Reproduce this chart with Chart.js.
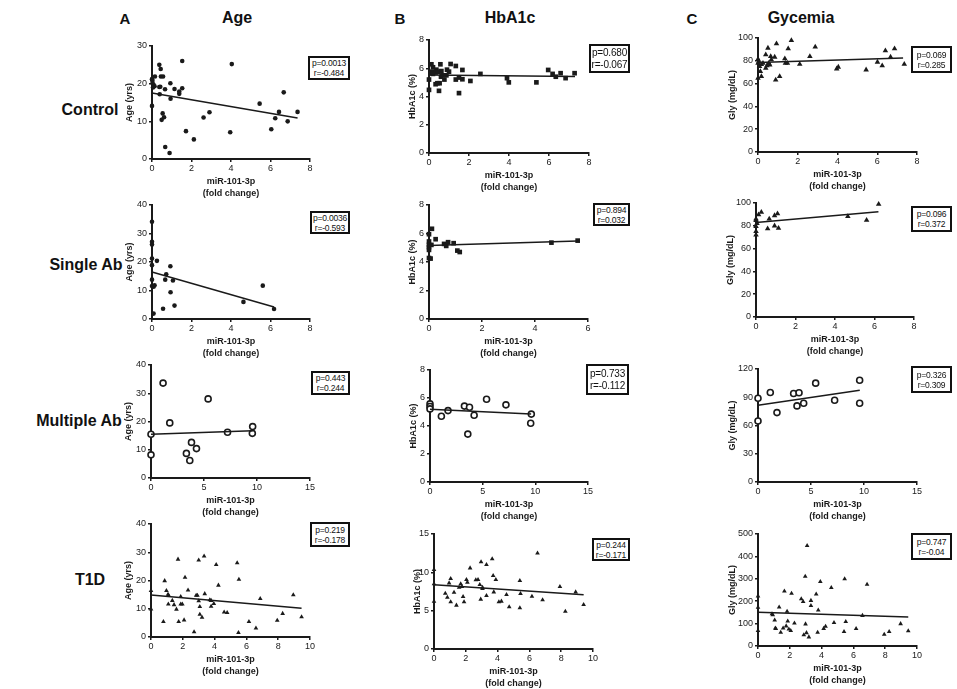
<!DOCTYPE html>
<html>
<head>
<meta charset="utf-8">
<script src="https://cdn.jsdelivr.net/npm/chart.js@4.4.1/dist/chart.umd.min.js"></script>
<style>
  body { margin: 0; background: #fff; font-family: "Liberation Sans", Arial, sans-serif; }
  #fig { position: relative; width: 957px; height: 689px; overflow: hidden; }
  #fig canvas { position: absolute; }
  .lbl { position: absolute; font-weight: bold; color: #111; white-space: nowrap; transform: translate(-50%, -50%); }
  .stat { position: absolute; border: 2px solid #111; box-sizing: border-box; background: #fff;
          font-size: 8.5px; line-height: 10px; color: #111; text-align: center; white-space: nowrap;
          letter-spacing: -0.2px; display: flex; flex-direction: column; justify-content: center;
          align-items: center; z-index: 2; }
</style>
</head>
<body>
<div id="fig"></div>
<script>
// columns and rows of the figure
const columnLetters = ['A', 'B', 'C'];
const columnTitles = ['Age', 'HbA1c', 'Gycemia'];
const rowTitles = ['Control', 'Single Ab', 'Multiple Ab', 'T1D'];
const yTitles = ['Age (yrs)', 'HbA1c (%)', 'Gly (mg/dL)'];
const xTitle = ['miR-101-3p', '(fold change)'];

// [miR-101-3p fold change, value]
const controlAge = [[0,21.2],[0.02,20.8],[0.03,20.1],[0.08,19.7],[0.13,19.3],[0.05,19],[0,14.1],[0.15,21.9],[0.37,25],[0.44,23.9],[0.45,21.9],[0.56,21.9],[0.37,19.1],[0.39,17.2],[0.42,19.2],[0.66,18.5],[0.93,20.1],[0.94,16],[0.54,12.1],[0.49,10.4],[0.61,11.1],[0.67,3.2],[0.89,1.6],[1.14,18.6],[1.38,17.9],[1.38,17.3],[1.53,18.8],[1.53,26],[1.72,7.4],[2.12,5.2],[2.61,11],[2.91,12.4],[3.96,7.1],[4.04,25.2],[5.45,14.7],[6.04,7.9],[6.24,10.8],[6.43,12.5],[6.67,17.7],[6.87,10],[7.37,12.5]];
const controlHba1c = [[0,4.47],[0,5.2],[0.07,5.65],[0.12,6.28],[0.15,5.76],[0.2,5.6],[0.2,6.07],[0.33,5.7],[0.37,5.9],[0.33,4.87],[0.42,4.94],[0.45,5.76],[0.5,4.4],[0.53,4.94],[0.57,6.28],[0.6,5.4],[0.62,5.8],[0.67,5.5],[0.77,5.2],[0.87,5.5],[0.9,5.9],[1.0,5.76],[1.08,6.3],[1.34,6.16],[1.34,5.2],[1.5,5.34],[1.5,4.24],[1.67,5.22],[1.67,5.88],[2.07,5.1],[2.57,5.6],[3.9,5.3],[3.99,5],[5.37,5],[5.96,5.88],[6.18,5.6],[6.34,5.4],[6.58,5.65],[6.83,5.3],[7.28,5.65]];
const controlGly = [[0,81.5],[0,78],[0,64.8],[0.05,79.5],[0.08,75],[0.12,70.7],[0.17,76.8],[0.17,66.3],[0.25,78],[0.39,85.3],[0.39,73.6],[0.45,75.7],[0.5,91.2],[0.54,78],[0.59,76.5],[0.64,83.9],[0.67,81],[0.84,83.3],[0.89,63.3],[0.93,95],[1.09,66.3],[1.35,81.8],[1.38,78],[1.48,78],[1.52,90.6],[1.68,97.9],[2.1,77.1],[2.61,83.9],[2.88,92.1],[3.96,73],[4.04,74.5],[5.44,72.1],[6.01,78.9],[6.25,75.7],[6.41,88.9],[6.67,83.3],[6.87,90.6],[7.36,77.1]];

const singleAge = [[0,34.1],[0,27.1],[0,26.1],[0,21.2],[0,18.9],[0,13.8],[0,11.6],[0.08,11.3],[0.13,11.8],[0.08,1.9],[0.25,20.4],[0.93,18.5],[0.72,15.7],[0.67,13.8],[1.06,13.5],[0.94,9.4],[0.56,3.6],[1.14,4.7],[4.63,6],[5.61,11.7],[6.18,3.5]];
const singleHba1c = [[0,5.95],[0,5.44],[0,5.2],[0,5.04],[0,4.85],[0,4.28],[0.06,4.24],[0.09,5.2],[0.11,6.33],[0.25,5.6],[0.57,5.27],[0.65,5.13],[0.72,5.39],[0.93,5.32],[1.07,4.8],[1.16,4.7],[4.62,5.36],[5.61,5.5]];
const singleGly = [[0,86],[0,84.8],[0,79.5],[0,75],[0,72],[0.05,82],[0.13,89.7],[0.27,92],[0.59,77.4],[0.67,86],[0.94,80],[0.94,89],[1.09,90.6],[1.14,78],[4.65,88.3],[5.6,85],[6.21,99]];

const multipleAge = [[0,15.5],[0,8.2],[1.14,33.6],[1.77,19.5],[3.34,8.7],[3.66,6.2],[3.82,12.6],[4.29,10.4],[5.39,28],[7.22,16.2],[9.59,18.2],[9.56,15.8]];
const multipleHba1c = [[0,5.58],[0,5.39],[0,5.22],[1.08,4.7],[1.71,5.1],[3.27,5.42],[3.75,5.34],[3.59,3.42],[4.19,4.77],[5.37,5.91],[7.21,5.51],[9.62,4.85],[9.56,4.2]];
const multipleGly = [[0,89],[0,64.8],[1.16,95],[1.79,73.7],[3.36,94],[3.87,94.7],[3.68,80.8],[4.31,83.6],[5.44,105],[7.23,86.8],[9.59,108],[9.59,83.6]];

const t1dAge = [[0,16.4],[0,9.9],[0.78,5.4],[0.86,19.9],[0.97,16.4],[1.07,15.1],[1.11,14.7],[1.09,11.6],[1.34,12.9],[1.45,11.4],[1.6,9.8],[1.7,27.5],[1.74,5.4],[1.87,14.3],[1.87,11.6],[1.97,11.6],[2.08,6],[2.14,21.1],[2.33,16.6],[2.71,1.8],[2.84,14.7],[2.92,14.7],[3.0,27.2],[3.0,12.8],[3.07,10.7],[3.07,8],[3.21,6.9],[3.34,28.6],[3.38,15.3],[3.7,13.1],[3.78,12.9],[3.78,10.8],[3.95,11.8],[4.1,25.6],[4.24,18.3],[4.6,8.8],[4.79,8.6],[5.42,26.2],[5.53,20.4],[5.5,1.5],[6.16,5.4],[6.6,3.1],[6.87,13.6],[7.94,5.9],[8.28,8.3],[8.95,14.9],[9.47,7.1]];
const t1dHba1c = [[0,10.35],[0,8.48],[0,6.2],[0.71,7.26],[0.84,6.74],[0.95,8.6],[1.05,9.17],[1.05,6.13],[1.26,7.39],[1.41,5.7],[1.58,8.04],[1.68,8.48],[1.76,8.13],[1.83,6.83],[1.89,6.13],[2.04,9.04],[2.1,8.7],[2.27,10.56],[2.63,9.0],[2.77,9.04],[2.88,8.39],[2.96,11.35],[2.94,6.48],[3.05,8.04],[3.05,7.87],[3.3,11.0],[3.3,6.96],[3.66,11.74],[3.72,9.57],[3.76,7.43],[3.89,9.04],[4.08,6.13],[4.24,6.22],[4.56,7.09],[4.73,5.48],[5.4,8.91],[5.44,7.22],[5.4,5.35],[6.16,6.87],[6.51,12.5],[6.83,6.39],[7.92,8.13],[8.26,4.91],[8.91,7.43],[9.41,5.78]];
const t1dGly = [[0,223],[0,172],[0,68],[0.88,143],[0.93,139],[1.05,115],[1.09,80],[1.12,77],[1.33,173],[1.43,61],[1.58,80],[1.66,245],[1.77,89],[1.83,154],[1.87,111],[1.94,75],[2.06,68],[2.11,235],[2.29,102],[2.72,210],[2.84,198],[2.88,49],[2.97,311],[2.99,98],[3.05,59],[3.09,448],[3.2,40],[3.33,203],[3.33,180],[3.66,231],[3.75,61],[3.79,160],[3.92,287],[4.13,78],[4.25,87],[4.61,260],[4.78,104],[5.41,64],[5.45,299],[5.52,109],[6.17,77],[6.57,136],[6.86,275],[7.94,52],[8.25,64],[8.97,99],[9.45,67]];

// regression lines, start and end as drawn
const controlFits = [[[0,17.5],[7.37,10.9]], [[0,5.53],[7.3,5.41]], [[0,78.6],[7.3,82.4]]];
const singleFits = [[[0,16.5],[6.18,4.2]], [[0,5.15],[5.61,5.48]], [[0,83],[6.2,92.4]]];
const multipleFits = [[[0,15.5],[9.6,16.7]], [[0,5.2],[9.6,4.85]], [[0,81.5],[9.6,97.5]]];
const t1dFits = [[[0,14.9],[9.47,10.2]], [[0,8.39],[9.41,7.09]], [[0,151],[9.45,130]]];

// p / r values in the boxes
const controlStats = [['p=0.0013','r=-0.484'], ['p=0.680','r=-0.067'], ['p=0.069','r=0.285']];
const singleStats = [['p=0.0036','r=-0.593'], ['p=0.894','r=0.032'], ['p=0.096','r=0.372']];
const multipleStats = [['p=0.443','r=0.244'], ['p=0.733','r=-0.112'], ['p=0.326','r=0.309']];
const t1dStats = [['p=0.219','r=-0.178'], ['p=0.244','r=-0.171'], ['p=0.747','r=-0.04']];

// axis ranges [max, step]
const xRanges = [[8,2], [8,2], [15,5], [10,2]];
const singleHbX = [6,2];
const yRanges = [
  [[30,10],[8,2],[100,20]],
  [[40,10],[8,2],[100,20]],
  [[40,10],[8,2],[120,30]],
  [[40,10],[15,5],[500,100]]
];

const rowData = [
  [controlAge, controlHba1c, controlGly],
  [singleAge, singleHba1c, singleGly],
  [multipleAge, multipleHba1c, multipleGly],
  [t1dAge, t1dHba1c, t1dGly]
];
const rowFits = [controlFits, singleFits, multipleFits, t1dFits];
const rowStats = [controlStats, singleStats, multipleStats, t1dStats];

// layout: plot area [left, top, right, bottom], stat box [left, top, w, h]
const plotRects = [
  [[152,46,310,159], [429,40,589,153], [758,38,917,152]],
  [[152,205,310,319], [429,205,588,319], [756,203,914,317]],
  [[151,365,310,478], [430,370,588,482], [758,369,917,482]],
  [[151,524,310,637], [434,534,593,649], [758,534,917,646]]
];
const statBoxes = [
  [[308,56,42,24], [589,44,41,29], [911,46,41,27]],
  [[310,211,40,23], [593,203,37,23], [911,206,41,26]],
  [[311,371,39,24], [586,364,43,31], [911,366,41,27]],
  [[310,522,40,25], [592,538,38,23], [911,533,41,27]]
];
const yTitleOffsets = [22, 16, 25];
const rowLabelX = [90, 86, 79, 90];
const rowLabelY = [110, 265, 421, 580];

const fig = document.getElementById('fig');
const ink = '#1a1a1a';

function addLabel(text, x, y, size) {
  const d = document.createElement('div');
  d.className = 'lbl';
  d.textContent = text;
  d.style.left = x + 'px';
  d.style.top = y + 'px';
  d.style.fontSize = size + 'px';
  fig.appendChild(d);
}

addLabel(columnLetters[0], 125, 18, 15);
addLabel(columnTitles[0], 237, 18, 16);
addLabel(columnLetters[1], 400, 18, 15);
addLabel(columnTitles[1], 510, 18, 16);
addLabel(columnLetters[2], 692, 18, 15);
addLabel(columnTitles[2], 801, 18, 16);
rowTitles.forEach((t, i) => addLabel(t, rowLabelX[i], rowLabelY[i], 16));

function markerStyle(row, col) {
  if (row === 2) return { pointStyle: 'circle', radius: 3, bg: '#fff', bw: 1.6 };
  if (row === 3) return { pointStyle: 'triangle', radius: 2.7, bg: ink, bw: 0 };
  if (col === 0) return { pointStyle: 'circle', radius: 2.3, bg: ink, bw: 0 };
  if (col === 1) return { pointStyle: 'rect', radius: 3.3, bg: ink, bw: 0 };
  return { pointStyle: 'triangle', radius: 3.2, bg: ink, bw: 0 };
}

function drawPanel(row, col) {
  const [l, t, r, b] = plotRects[row][col];
  const yAxisW = 40, padT = 10, padR = 8, xAxisH = 42;
  const canvas = document.createElement('canvas');
  canvas.width = (r - l) + yAxisW + padR;
  canvas.height = (b - t) + padT + xAxisH;
  canvas.style.left = (l - yAxisW) + 'px';
  canvas.style.top = (t - padT) + 'px';
  fig.appendChild(canvas);

  const xr = (row === 1 && col === 1) ? singleHbX : xRanges[row];
  const yr = yRanges[row][col];
  const m = markerStyle(row, col);
  const tickFont = { family: 'Liberation Sans', size: 9 };
  const titleFont = { family: 'Liberation Sans', size: 9, weight: 'bold', lineHeight: 1.3 };

  new Chart(canvas, {
    type: 'scatter',
    data: {
      datasets: [{
        data: rowFits[row][col].map(p => ({ x: p[0], y: p[1] })),
        showLine: true,
        borderColor: ink,
        borderWidth: 1.5,
        pointRadius: 0,
        clip: false
      }, {
        data: rowData[row][col].map(p => ({ x: p[0], y: p[1] })),
        pointStyle: m.pointStyle,
        pointRadius: m.radius,
        pointBackgroundColor: m.bg,
        pointBorderColor: ink,
        pointBorderWidth: m.bw,
        clip: false
      }]
    },
    options: {
      responsive: false,
      animation: false,
      events: [],
      layout: { padding: { left: 0, top: padT, right: padR, bottom: 0 } },
      plugins: { legend: { display: false }, tooltip: { enabled: false } },
      scales: {
        x: {
          type: 'linear', min: 0, max: xr[0],
          grid: { drawOnChartArea: false, drawTicks: true, tickLength: 3, color: ink, lineWidth: 1.5 },
          border: { display: true, color: ink, width: 2 },
          ticks: { stepSize: xr[1], font: tickFont, color: ink, padding: 1, maxRotation: 0 },
          title: { display: true, text: xTitle, font: titleFont, color: ink, padding: { top: 0, bottom: 2 } },
          afterFit: s => { s.height = xAxisH; }
        },
        y: {
          type: 'linear', min: 0, max: yr[0],
          grid: { drawOnChartArea: false, drawTicks: true, tickLength: 3, color: ink, lineWidth: 1.5 },
          border: { display: true, color: ink, width: 2 },
          ticks: { stepSize: yr[1], font: tickFont, color: ink, padding: 2 },
          title: { display: true, text: yTitles[col], font: { family: 'Liberation Sans', size: 9, weight: 'bold', lineHeight: 1.2 },
                   color: ink, padding: { top: yAxisW - yTitleOffsets[col] - 5.4, bottom: 0 } },
          afterFit: s => { s.width = yAxisW; }
        }
      }
    }
  });

  const [bl, bt, bw, bh] = statBoxes[row][col];
  const box = document.createElement('div');
  box.className = 'stat';
  box.style.left = bl + 'px';
  box.style.top = bt + 'px';
  box.style.width = bw + 'px';
  box.style.height = bh + 'px';
  if (bh > 28) { box.style.fontSize = '10px'; box.style.lineHeight = '12px'; }
  rowStats[row][col].forEach(s => {
    const line = document.createElement('div');
    line.textContent = s;
    box.appendChild(line);
  });
  fig.appendChild(box);
}

for (let row = 0; row < 4; row++) {
  for (let col = 0; col < 3; col++) drawPanel(row, col);
}
</script>
</body>
</html>
